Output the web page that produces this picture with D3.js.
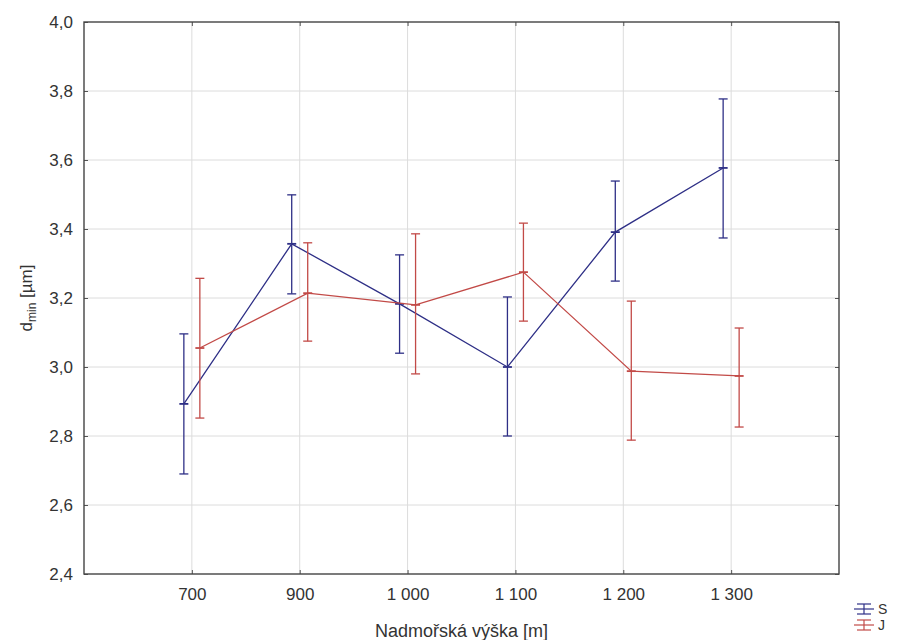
<!DOCTYPE html>
<html>
<head>
<meta charset="utf-8">
<script src="https://cdn.jsdelivr.net/npm/d3@7"></script>
<style>
  body { margin: 0; background: #fff; }
  svg { display: block; font-family: "Liberation Sans", Arial, sans-serif; }
</style>
</head>
<body>
<div id="chart"></div>
<script>
// data
var altitudes = ["700", "900", "1 000", "1 100", "1 200", "1 300"];
var sMean = [2.893, 3.357, 3.183, 3.000, 3.391, 3.577];
var sLow  = [2.690, 3.212, 3.040, 2.800, 3.249, 3.374];
var sHigh = [3.096, 3.499, 3.325, 3.203, 3.539, 3.777];
var jMean = [3.055, 3.214, 3.180, 3.275, 2.988, 2.974];
var jLow  = [2.852, 3.075, 2.980, 3.133, 2.788, 2.826];
var jHigh = [3.257, 3.360, 3.386, 3.417, 3.191, 3.113];
var yTicks = [2.4, 2.6, 2.8, 3.0, 3.2, 3.4, 3.6, 3.8, 4.0];

var width = 900, height = 640;
var margin = { top: 22, right: 61, bottom: 66, left: 84 };

var svg = d3.select("#chart").append("svg")
    .attr("width", width)
    .attr("height", height);

var x = d3.scalePoint()
    .domain(altitudes)
    .range([margin.left, width - margin.right])
    .padding(1);

var y = d3.scaleLinear()
    .domain([2.4, 4.0])
    .range([height - margin.bottom, margin.top]);

var fmt = function (d) { return d3.format(".1f")(d).replace(".", ","); };

// grid
svg.append("g")
    .selectAll("line")
    .data(yTicks.slice(1, -1))
    .enter().append("line")
    .attr("x1", margin.left).attr("x2", width - margin.right)
    .attr("y1", function (d) { return y(d); })
    .attr("y2", function (d) { return y(d); })
    .attr("stroke", "#dcdcdc");

svg.append("g")
    .selectAll("line")
    .data(altitudes)
    .enter().append("line")
    .attr("x1", function (d) { return x(d); })
    .attr("x2", function (d) { return x(d); })
    .attr("y1", margin.top).attr("y2", height - margin.bottom)
    .attr("stroke", "#dcdcdc");

// axes (inner ticks)
svg.append("g")
    .attr("transform", "translate(0," + (height - margin.bottom) + ")")
    .call(d3.axisBottom(x).tickSizeInner(-4).tickSizeOuter(0).tickPadding(14));
svg.append("g")
    .attr("transform", "translate(" + margin.left + ",0)")
    .call(d3.axisLeft(y).tickValues(yTicks).tickFormat(fmt).tickSizeInner(-4).tickSizeOuter(0).tickPadding(11));

svg.append("g")
    .attr("transform", "translate(0," + margin.top + ")")
    .call(d3.axisTop(x).tickSizeInner(-4).tickSizeOuter(0).tickFormat(""));
svg.append("g")
    .attr("transform", "translate(" + (width - margin.right) + ",0)")
    .call(d3.axisRight(y).tickValues(yTicks).tickSizeInner(-4).tickSizeOuter(0).tickFormat(""));

svg.selectAll(".domain").remove();
svg.selectAll(".tick line").attr("stroke", "#555");
svg.selectAll(".tick text")
    .attr("fill", "#333")
    .style("font-size", "17px")
    .style("font-family", "'Liberation Sans', Arial, sans-serif");

// frame
svg.append("rect")
    .attr("x", margin.left).attr("y", margin.top)
    .attr("width", width - margin.left - margin.right)
    .attr("height", height - margin.top - margin.bottom)
    .attr("fill", "none")
    .attr("stroke", "#444")
    .attr("stroke-width", 1.4);

// series
var series = [
    { name: "S", mean: sMean, low: sLow, high: sHigh, color: "#2e2f86", dx: -8 },
    { name: "J", mean: jMean, low: jLow, high: jHigh, color: "#c24a47", dx: 8 }
];

var line = d3.line()
    .x(function (d) { return d.x; })
    .y(function (d) { return y(d.v); });

series.forEach(function (s) {
    var pts = altitudes.map(function (a, i) {
        return { x: x(a) + s.dx, v: s.mean[i], lo: s.low[i], hi: s.high[i] };
    });
    var g = svg.append("g");
    g.append("path")
        .datum(pts)
        .attr("d", line)
        .attr("fill", "none")
        .attr("stroke", s.color)
        .attr("stroke-width", 1.3);

    var bars = g.selectAll(".bar").data(pts).enter().append("g");
    bars.append("line")
        .attr("x1", function (d) { return d.x; }).attr("x2", function (d) { return d.x; })
        .attr("y1", function (d) { return y(d.lo); })
        .attr("y2", function (d) { return y(d.hi); })
        .attr("stroke", s.color).attr("stroke-width", 1.3);
    [ "lo", "hi", "v" ].forEach(function (k) {
        bars.append("line")
            .attr("x1", function (d) { return d.x - 4.5; })
            .attr("x2", function (d) { return d.x + 4.5; })
            .attr("y1", function (d) { return y(d[k]); })
            .attr("y2", function (d) { return y(d[k]); })
            .attr("stroke", s.color).attr("stroke-width", k == "v" ? 1.8 : 1.3);
    });
});

// axis titles
svg.append("text")
    .attr("x", margin.left + (width - margin.left - margin.right) / 2)
    .attr("y", 637)
    .attr("text-anchor", "middle")
    .attr("fill", "#333")
    .style("font-size", "18px")
    .text("Nadmořská výška [m]");

var yt = svg.append("text")
    .attr("transform", "translate(32," + y(3.2) + ") rotate(-90)")
    .attr("text-anchor", "middle")
    .attr("fill", "#333")
    .style("font-size", "17px");
yt.append("tspan").text("d");
yt.append("tspan").attr("dy", 4).style("font-size", "12px").text("min");
yt.append("tspan").attr("dy", -4).text(" [µm]");

// legend
var legend = svg.append("g");
series.forEach(function (s, i) {
    var cy = 609 + i * 16;
    var lg = legend.append("g").attr("stroke", s.color).attr("stroke-width", 1.2);
    lg.append("line").attr("x1", 854).attr("x2", 874).attr("y1", cy).attr("y2", cy);
    lg.append("line").attr("x1", 857).attr("x2", 871).attr("y1", cy - 5).attr("y2", cy - 5);
    lg.append("line").attr("x1", 857).attr("x2", 871).attr("y1", cy + 5).attr("y2", cy + 5);
    lg.append("line").attr("x1", 864).attr("x2", 864).attr("y1", cy - 5).attr("y2", cy + 5);
    legend.append("text")
        .attr("x", 878).attr("y", cy + 5)
        .attr("fill", "#333")
        .style("font-size", "14px")
        .text(s.name);
});
</script>
</body>
</html>
